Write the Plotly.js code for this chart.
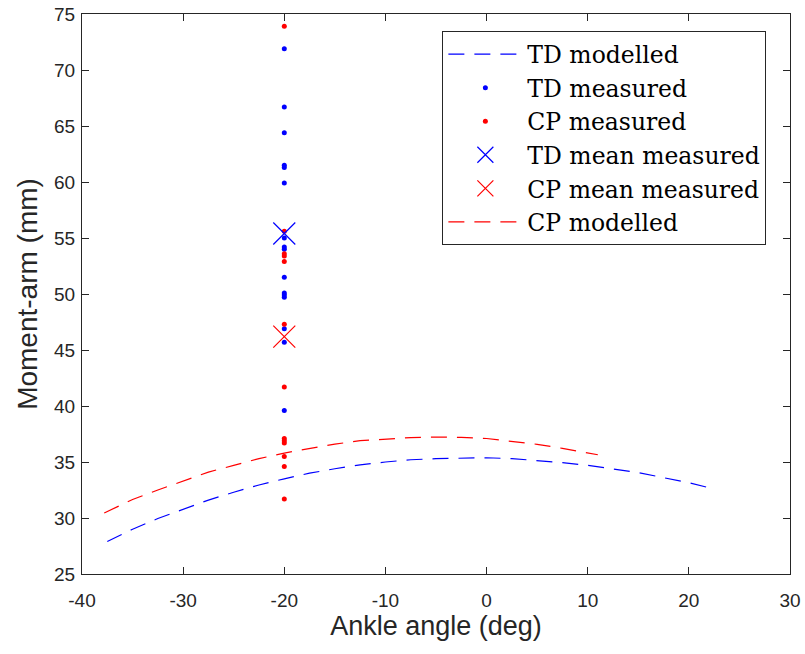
<!DOCTYPE html>
<html>
<head>
<meta charset="utf-8">
<script src="https://cdn.plot.ly/plotly-3.0.1.min.js"></script>
<style>html,body{margin:0;padding:0;background:#fff;}#chart{width:805px;height:654px;}</style>
</head>
<body>
<div id="chart"></div>
<script>
// TD modelled curve
const tdModelX = [-37.5,-35,-32.5,-30,-27.5,-25,-22.5,-20,-17.5,-15,-12.5,-10,-7.5,-5,-2.5,0,2.5,5,7.5,10,12.5,15,17.5,20,22];
const tdModelY = [27.9,29.0,29.95,30.8,31.6,32.3,32.95,33.5,34.0,34.4,34.75,35.0,35.2,35.3,35.37,35.38,35.3,35.15,34.95,34.7,34.4,34.05,33.6,33.15,32.7];
// CP modelled curve
const cpModelX = [-37.8,-35,-32.5,-30,-27.5,-25,-22.5,-20,-17.5,-15,-12.5,-10,-7.5,-5,-2.5,0,2.5,5,7.5,10,11];
const cpModelY = [30.45,31.65,32.5,33.3,34.1,34.7,35.3,35.8,36.2,36.6,36.9,37.05,37.18,37.23,37.2,37.1,36.87,36.58,36.22,35.8,35.65];
// measured values (all at -20 deg)
const measuredAngle = -20;
const tdMeasured = [71.9,66.7,64.4,61.5,61.3,59.9,55.0,54.2,54.0,51.5,50.1,49.9,49.7,46.9,45.7,39.6];
const cpMeasured = [73.9,55.6,53.6,53.4,52.9,47.3,41.7,37.1,36.9,36.7,35.5,34.6,31.7];
const tdMean = 55.4;
const cpMean = 46.2;
// tick labels
const xTickVals = [-40,-30,-20,-10,0,10,20,30];
const xTickText = ['-40','-30','-20','-10','0','10','20','30'];
const yTickVals = [25,30,35,40,45,50,55,60,65,70,75];

const serif = "DejaVu Serif, Liberation Serif, serif";
const sans = "Liberation Sans, Arial, Helvetica, sans-serif";

const traces = [
  {x: tdModelX, y: tdModelY, mode: 'lines', name: 'TD modelled',
   line: {color: '#0000ff', width: 1.2, dash: '16px,10px'}},
  {x: tdMeasured.map(() => measuredAngle), y: tdMeasured, mode: 'markers', name: 'TD measured',
   marker: {color: '#0000ff', size: 5}},
  {x: cpMeasured.map(() => measuredAngle), y: cpMeasured, mode: 'markers', name: 'CP measured',
   marker: {color: '#ff0000', size: 5}},
  {x: [measuredAngle], y: [tdMean], mode: 'markers', name: 'TD mean measured',
   marker: {color: '#0000ff', size: 22, symbol: 'x-thin-open', line: {color: '#0000ff', width: 1.2}}},
  {x: [measuredAngle], y: [cpMean], mode: 'markers', name: 'CP mean measured',
   marker: {color: '#ff0000', size: 22, symbol: 'x-thin-open', line: {color: '#ff0000', width: 1.2}}},
  {x: cpModelX, y: cpModelY, mode: 'lines', name: 'CP modelled',
   line: {color: '#ff0000', width: 1.2, dash: '16px,10px'}}
];

const axisCommon = {
  showline: true, mirror: 'ticks', linecolor: '#262626', linewidth: 1,
  ticks: 'inside', ticklen: 7, tickcolor: '#262626', tickwidth: 1,
  showgrid: false, zeroline: false,
  tickfont: {family: sans, size: 19, color: '#262626'}
};

const layout = {
  width: 805, height: 654,
  margin: {l: 82, r: 15, t: 14, b: 80},
  paper_bgcolor: '#fff', plot_bgcolor: '#fff',
  showlegend: true,
  xaxis: Object.assign({}, axisCommon, {
    range: [-40, 30], tickmode: 'array', tickvals: xTickVals, ticktext: xTickText,
    ticklabelstandoff: 9,
    title: {text: 'Ankle angle (deg)', font: {family: sans, size: 27, color: '#262626'}, standoff: 2}
  }),
  yaxis: Object.assign({}, axisCommon, {
    range: [25, 75], tickmode: 'array', tickvals: yTickVals,
    ticklabelstandoff: 2,
    title: {text: 'Moment-arm (mm)', font: {family: sans, size: 28, color: '#262626'}, standoff: 8}
  }),
  legend: {
    x: 0.509, y: 0.969, xanchor: 'left', yanchor: 'top',
    bgcolor: '#fff', bordercolor: '#262626', borderwidth: 1,
    font: {family: serif, size: 23.5, color: '#000'},
    itemwidth: 74, tracegroupgap: 0
  }
};

Plotly.newPlot('chart', traces, layout, {displayModeBar: false, staticPlot: true});
</script>
</body>
</html>
